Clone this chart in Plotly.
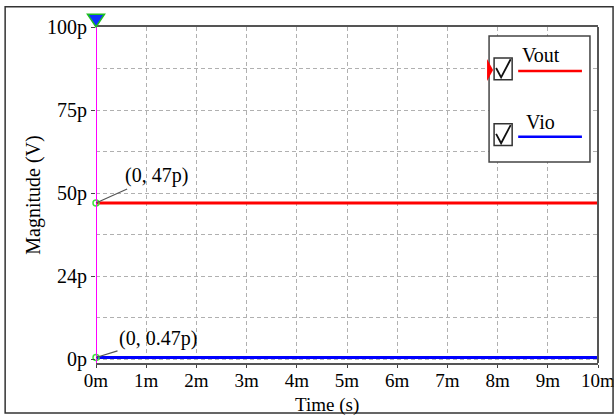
import plotly.graph_objects as go

# Transient result (time in ms, magnitude in pV)
time_ms = [0, 10]
vout = [47, 47]
vio = [0.47, 0.47]
series_names = ["Vout", "Vio"]
series_colors = ["#ff0000", "#0000ff"]
x_ticks = list(range(0, 11))
x_ticktext = [f"{t}m" for t in x_ticks]
y_ticks = [0, 25, 50, 75, 100]
y_ticktext = ["0p", "24p", "50p", "75p", "100p"]
marker_labels = ["(0, 47p)", "(0, 0.47p)"]

FONT = "Liberation Serif"
fig = go.Figure()

for name, ys, col in zip(series_names, [vout, vio], series_colors):
    fig.add_trace(go.Scatter(x=time_ms, y=ys, mode="lines", name=name,
                             line=dict(color=col, width=3), showlegend=False))

# right border of the plot area
fig.add_shape(type="line", xref="paper", yref="paper", x0=1, x1=1, y0=0, y1=1,
              line=dict(color="#555", width=2), layer="above")
# cursor line at t = 0
fig.add_shape(type="line", xref="x", yref="paper", x0=0, x1=0, y0=0, y1=1.02,
              line=dict(color="#ff00ff", width=2), layer="above")
# cursor handle on top
fig.add_shape(type="path", xref="paper", yref="paper", layer="above",
              path="M -0.017,1.038 L 0.017,1.038 L 0,1.0 Z",
              fillcolor="#1030ff", line=dict(color="#20c020", width=1.5))
# cursor intersection points
fig.add_trace(go.Scatter(x=[0, 0], y=[vout[0], vio[0]], mode="markers", cliponaxis=False,
                         marker=dict(symbol="circle-open", size=6, color="#40e040",
                                     line=dict(width=1.5)),
                         showlegend=False, hoverinfo="skip"))

for (yv, txt, ax, ay) in [(vout[0], marker_labels[0], 60, -27),
                          (vio[0], marker_labels[1], 62, -19)]:
    fig.add_annotation(x=0, y=yv, text=txt, showarrow=True, ax=ax, ay=ay,
                       arrowhead=0, arrowwidth=1.2, arrowcolor="#555555",
                       font=dict(family=FONT, size=20, color="#000"))

# legend panel with check boxes
fig.add_shape(type="rect", xref="paper", yref="paper", x0=0.783, x1=0.984, y0=0.598, y1=0.973,
              line=dict(color="#444444", width=1.5), fillcolor="white", layer="above")
rows = [(0.875, 0.916), (0.679, 0.717)]
for (ly, ty), name, col in zip(rows, series_names, series_colors):
    fig.add_shape(type="rect", xref="paper", yref="paper", x0=0.793, x1=0.829,
                  y0=ly - 0.032, y1=ly + 0.033, line=dict(color="#333", width=1.5),
                  layer="above")
    # check mark
    fig.add_shape(type="path", xref="paper", yref="paper", layer="above",
                  path=f"M 0.797,{ly+0.003} L 0.807,{ly-0.025} L 0.826,{ly+0.029}",
                  line=dict(color="#111", width=1.8))
    fig.add_shape(type="line", xref="paper", yref="paper", x0=0.841, x1=0.968,
                  y0=ly - 0.006, y1=ly - 0.006, line=dict(color=col, width=2.5), layer="above")
    fig.add_annotation(xref="paper", yref="paper", x=0.886, y=ty, text=name, showarrow=False,
                       xanchor="center", yanchor="middle",
                       font=dict(family=FONT, size=20, color="#000"))
# red marker at the Vout legend entry
fig.add_shape(type="path", xref="paper", yref="paper", layer="above",
              path="M 0.779,0.905 L 0.791,0.872 L 0.779,0.839 Z",
              fillcolor="#ff0000", line=dict(color="#ff0000", width=0))

# x-axis title
fig.add_annotation(xref="paper", yref="paper", x=0.46, y=-0.124, text="Time (s)",
                   showarrow=False, xanchor="center", yanchor="middle",
                   font=dict(family=FONT, size=19, color="#000"))

# outer frame
fig.add_shape(type="rect", xref="paper", yref="paper", x0=-0.181, x1=1.03, y0=-0.149, y1=1.06,
              line=dict(color="#333333", width=1.5))

grid = dict(showgrid=True, gridcolor="#b0b0b0", gridwidth=1, griddash="4px,3px")
fig.update_xaxes(range=[0, 10], tickvals=x_ticks, ticktext=x_ticktext,
                 ticks="outside", ticklen=3, tickcolor="#444", automargin=False,
                 ticklabeloverflow="allow", ticklabelstandoff=-4,
                 showline=True, linecolor="#555", linewidth=2, mirror=True,
                 zeroline=False,
                 tickfont=dict(family=FONT, size=19, color="#000"), **grid)
fig.update_yaxes(range=[-1.2, 100], tickvals=y_ticks, ticktext=y_ticktext,
                 ticks="outside", ticklen=4, tickcolor="#444", automargin=False,
                 showline=False, zeroline=False,
                 title=dict(text="Magnitude (V)", standoff=1,
                            font=dict(family=FONT, size=20)),
                 tickfont=dict(family=FONT, size=20, color="#000"),
                 minor=dict(dtick=12.5, tick0=0, showgrid=True, gridcolor="#b0b0b0",
                            griddash="4px,3px", ticks=""),
                 **grid)

fig.update_layout(width=614, height=415, margin=dict(l=96, r=16, t=27, b=52),
                  paper_bgcolor="white", plot_bgcolor="white",
                  font=dict(family=FONT, color="#000"), showlegend=False)

fig.write_html("out.html")
